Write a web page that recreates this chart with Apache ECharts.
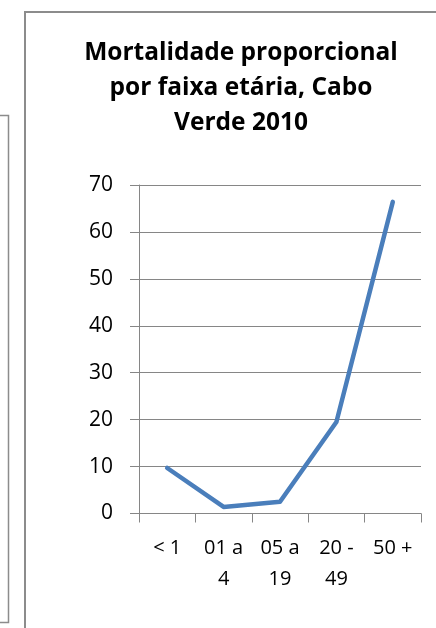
<!DOCTYPE html>
<html>
<head>
<meta charset="utf-8">
<script src="https://cdn.jsdelivr.net/npm/echarts@6/dist/echarts.min.js"></script>
<style>
html,body{margin:0;padding:0;background:#fff;}
#c{width:436px;height:628px;}
</style>
</head>
<body>
<div id="c"></div>
<script>
var titleText = 'Mortalidade proporcional\npor faixa etária, Cabo\nVerde 2010';
var categories = ['< 1', '01 a 4', '05 a 19', '20 - 49', '50 +'];
var mortality = [9.7, 1.4, 2.5, 19.5, 66.4];
var yTicks = [0, 10, 20, 30, 40, 50, 60, 70];

var FONT = '"Open Sans"';
var chart = echarts.init(document.getElementById('c'), null, {renderer: 'canvas'});
chart.setOption({
  backgroundColor: '#ffffff',
  animation: false,
  title: {
    text: titleText,
    left: 236,
    top: 31,
    textAlign: 'center',
    textStyle: {fontFamily: FONT, fontSize: 24.5, fontWeight: 'bold', color: '#000', lineHeight: 35}
  },
  graphic: [
    {type: 'polyline', shape: {points: [[25, 628], [25, 12], [436, 12]]}, style: {stroke: '#8c8c8c', lineWidth: 2, fill: null}},
    {type: 'polyline', shape: {points: [[0, 115.5], [8.5, 115.5], [8.5, 622.5], [0, 622.5]]}, style: {stroke: '#8c8c8c', lineWidth: 1.5, fill: null}}
  ],
  grid: {left: 139, right: 15, top: 185, bottom: 114.5, containLabel: false},
  xAxis: {
    type: 'category',
    data: categories,
    boundaryGap: true,
    axisLine: {lineStyle: {color: '#868686', width: 1}},
    axisTick: {show: true, length: 9, lineStyle: {color: '#868686'}},
    axisLabel: {
      fontFamily: FONT, fontSize: 20, color: '#000', margin: 19, lineHeight: 31, interval: 0,
      formatter: function (v) {
        if (v.length > 4) { var i = v.lastIndexOf(' '); return v.slice(0, i) + '\n' + v.slice(i + 1); }
        return v;
      }
    }
  },
  yAxis: {
    type: 'value',
    min: yTicks[0],
    max: yTicks[yTicks.length - 1],
    interval: 10,
    axisLine: {show: true, lineStyle: {color: '#868686', width: 1}},
    axisTick: {show: true, length: 9, lineStyle: {color: '#868686'}},
    splitLine: {show: true, lineStyle: {color: '#868686', width: 1}},
    axisLabel: {fontFamily: FONT, fontSize: 21, color: '#000', margin: 26}
  },
  series: [{
    type: 'line',
    data: mortality,
    symbol: 'none',
    lineStyle: {color: '#4a7ebb', width: 4.5, cap: 'round', join: 'round'},
    itemStyle: {color: '#4a7ebb'}
  }]
});
</script>
</body>
</html>
